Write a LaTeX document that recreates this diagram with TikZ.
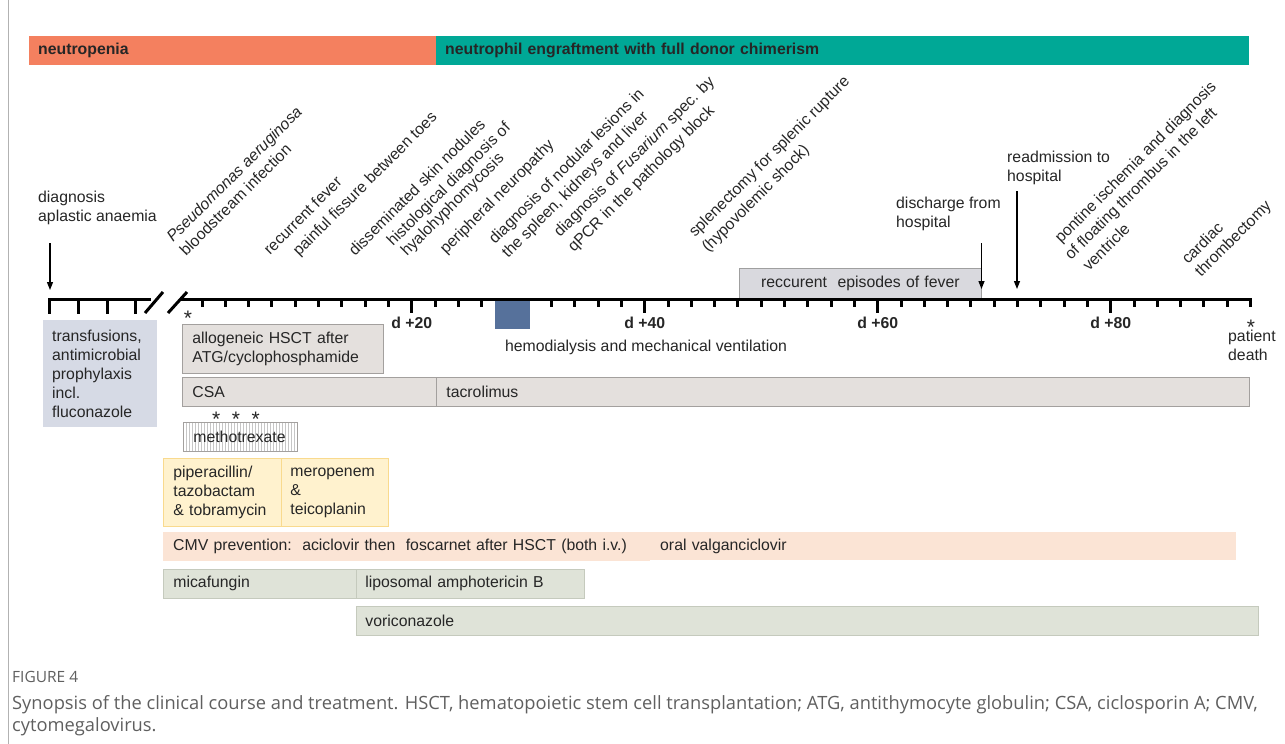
\documentclass[tikz,border=0pt]{standalone}
\usepackage{fontspec}
\setmainfont{Liberation Sans}
\newfontfamily\capfont{Open Sans}
\usetikzlibrary{arrows.meta,patterns}

\definecolor{neutro}{HTML}{F4805F}
\definecolor{engraft}{HTML}{00A896}
\definecolor{txt}{HTML}{262626}
\definecolor{boxgray}{HTML}{E4E0DD}
\definecolor{boxline}{HTML}{A3A09E}
\definecolor{fevergray}{HTML}{D9D9DE}
\definecolor{prophy}{HTML}{D6DAE5}
\definecolor{dialysis}{HTML}{56719B}
\definecolor{abxfill}{HTML}{FFF2CE}
\definecolor{abxline}{HTML}{F9DA8E}
\definecolor{cmvfill}{HTML}{FBE4D5}
\definecolor{fungfill}{HTML}{DFE3D8}
\definecolor{fungline}{HTML}{C5CABD}
\definecolor{capgray}{HTML}{5F5F5F}

\tikzset{
  lbl/.style={font=\fontsize{15.8}{19}\selectfont, text=txt},
  evt/.style={lbl, rotate=45, anchor=base west, inner sep=0pt},
  bar/.style={lbl, anchor=north west, inner xsep=10pt, inner ysep=0pt, align=left},
  gbox/.style={bar, fill=boxgray, draw=boxline, line width=0.8pt},
  abx/.style={bar, fill=abxfill, draw=abxline, line width=0.8pt},
  fung/.style={bar, fill=fungfill, draw=fungline, line width=0.8pt},
  axis/.style={line width=3pt, black},
  daylbl/.style={lbl, font=\fontsize{15.8}{19}\selectfont\bfseries, anchor=base, inner sep=0pt},
  star/.style={lbl, font=\fontsize{21}{21}\selectfont, anchor=base, inner sep=0pt},
  evtarrow/.style={-{Triangle[length=8pt,width=6pt]}, line width=1.3pt},
}

\begin{document}
\begin{tikzpicture}[x=1pt,y=-1pt]
\useasboundingbox (0,0) rectangle (1285,744);
\draw[gray!60, line width=1pt] (8.5,0) -- (8.5,744);

\node (neutro) [bar, fill=neutro, inner xsep=9pt, minimum height=29pt, text width=389pt, font=\fontsize{15.8}{19}\selectfont\bfseries] at (29,36) {neutropenia};
\node (engr) [bar, fill=engraft, inner xsep=9pt, minimum height=29pt, text width=795pt, font=\fontsize{15.8}{19}\selectfont\bfseries] at (436,36) {neutrophil engraftment with full donor chimerism};

\node (diag) [lbl, align=left, anchor=base west, inner sep=0pt] at (38,221.5) {diagnosis\\aplastic anaemia};
\node (disch) [lbl, align=left, anchor=base west, inner sep=0pt] at (896,227.5) {discharge from\\hospital};
\node (readm) [lbl, align=left, anchor=base west, inner sep=0pt] at (1007,181.5) {readmission to\\hospital};

\node (pseudo) [evt] at (173,243) {\textit{Pseudomonas aeruginosa}};
\node (blood) [evt] at (186,257) {bloodstream infection};
\node (fever1) [evt] at (270,256) {recurrent fever};
\node (fissure) [evt] at (299,257) {painful fissure between toes};
\node (nodules) [evt] at (355,257) {disseminated skin nodules};
\node (histo) [evt] at (393,247) {histological diagnosis of};
\node (hyalo) [evt] at (407,257) {hyalohyphomycosis};
\node (neuro) [evt] at (446,255) {peripheral neuropathy};
\node (lesions) [evt] at (495,245) {diagnosis of nodular lesions in};
\node (organs) [evt] at (508,259) {the spleen, kidneys and liver};
\node (fusar) [evt] at (560,238) {diagnosis of \textit{Fusarium} spec. by};
\node (qpcr) [evt] at (574,253) {qPCR in the pathology block};
\node (splen) [evt] at (695,238) {splenectomy for splenic rupture};
\node (shock) [evt] at (708,253) {(hypovolemic shock)};
\node (pontine) [evt] at (1061,244) {pontine ischemia and diagnosis};
\node (thromb) [evt] at (1071,261) {of floating thrombus in the left};
\node (ventr) [evt] at (1089,272) {ventricle};
\node (cardiac) [evt] at (1188,265) {cardiac};
\node (ectomy) [evt] at (1201,278) {thrombectomy};

\node (fever) [bar, fill=fevergray, draw=gray!75, line width=0.8pt, align=center, minimum height=31pt, text width=222pt] at (739,268) {reccurent\ \ episodes of fever};

\draw[axis] (48,299) -- (151,299);
\draw[axis] (181,299) -- (1251.5,299);
\foreach \x in {49.5,78.5,107,135.5}
  \draw[axis] (\x,299) -- ++(0,15);
\draw[axis] (145,313) -- (163,292);
\draw[axis] (168,313) -- (187,292);
\foreach \d in {2,4,...,92}
  \draw[axis] ({411.7+(\d-20)*11.65},299) -- ++(0,8);
\foreach \d in {20,40,60,80} {
  \draw[axis] ({411.7+(\d-20)*11.65},299) -- ++(0,14);
  \node (d\d) [daylbl] at ({411.7+(\d-20)*11.65},328.5) {d +\d};
}

\node (hemo) [fill=dialysis, anchor=north west, minimum width=35pt, minimum height=28pt, inner sep=0pt] at (495,300.5) {};
\node (hemolbl) [lbl, anchor=base] at (646,351.5) {hemodialysis and mechanical ventilation};

\coordinate (diagtop) at (50,243);
\coordinate (diagend) at (50,290);
\coordinate (dischtop) at (981.5,243);
\coordinate (dischend) at (981.5,289);
\coordinate (readmtop) at (1017,191);
\coordinate (readmend) at (1017,289);
\draw[evtarrow] (diagtop) -- (diagend);
\draw[evtarrow] (dischtop) -- (dischend);
\draw[evtarrow] (readmtop) -- (readmend);

\node (hsctstar) [star] at (188,325) {*};
\node (deathstar) [star] at (1251,334) {*};
\node (death) [lbl, align=left, anchor=base west, inner sep=0pt] at (1228,360) {patient\\death};

\node (prophy) [bar, fill=prophy, inner xsep=9pt, minimum height=107pt, text width=96pt] at (43,320) {transfusions,\\antimicrobial\\prophylaxis\\incl.\\fluconazole};
\node (hsct) [gbox, minimum height=49pt, text width=181pt] at (182,324) {allogeneic HSCT after\\ATG/cyclophosphamide};
\node (csa) [gbox, minimum height=29pt, text width=234pt] at (182,377) {CSA};
\node (tacro) [gbox, minimum height=29pt, text width=793pt] at (436,377) {tacrolimus};
\node (mtxstars) [star] at (236,426) {*\ \ *\ \ *};
\node (mtx) [bar, draw=boxline, line width=0.8pt, pattern=vertical lines, pattern color=gray!45, minimum height=29pt, text width=94pt] at (183,422) {methotrexate};

\node (pip) [abx, minimum height=68pt, text width=98pt] at (163,458) {piperacillin/\\tazobactam\\\& tobramycin};
\node (mero) [abx, inner xsep=9pt, minimum height=68pt, text width=89pt] at (281,458) {meropenem\\\&\\teicoplanin};

\node (cmv) [bar, fill=cmvfill, minimum height=29pt, text width=467pt] at (163,532) {CMV prevention:\ \ aciclovir then\ \ foscarnet after HSCT (both i.v.)};
\node (valg) [bar, fill=cmvfill, minimum height=28pt, text width=566pt] at (650,532) {oral valganciclovir};

\node (mica) [fung, minimum height=29pt, text width=173pt] at (163,569) {micafungin};
\node (ampho) [fung, inner xsep=9pt, minimum height=29pt, text width=210pt] at (356,569) {liposomal amphotericin B};
\node (vori) [fung, inner xsep=9pt, minimum height=29pt, text width=884pt] at (356,606) {voriconazole};

\node (fig) [anchor=base west, inner sep=0pt, font=\capfont\fontsize{15.5}{18}\selectfont, text=capgray] at (12,682) {FIGURE 4};
\node (caption) [anchor=base west, inner sep=0pt, align=left, font=\capfont\fontsize{18.3}{22}\selectfont, text=capgray] at (12,731) {Synopsis of the clinical course and treatment. HSCT, hematopoietic stem cell transplantation; ATG, antithymocyte globulin; CSA, ciclosporin A; CMV,\\cytomegalovirus.};
\end{tikzpicture}
\end{document}
